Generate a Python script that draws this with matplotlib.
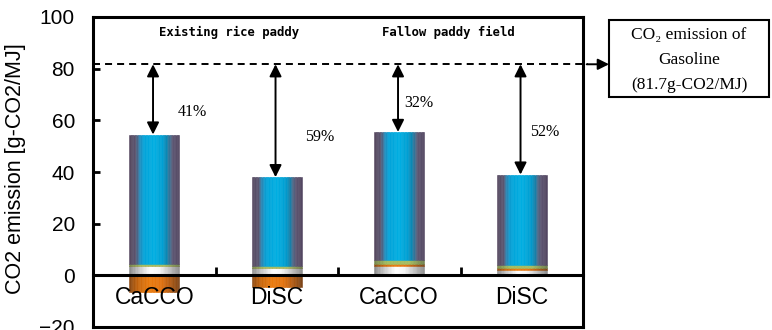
import matplotlib
matplotlib.use("Agg")
import matplotlib.pyplot as plt
import numpy as np
from matplotlib.colors import LinearSegmentedColormap
from matplotlib.patches import Rectangle

# ---- data -------------------------------------------------------------
categories = ["CaCCO", "DiSC", "CaCCO", "DiSC"]
base_grey = [3.6, 2.7, 3.5, 2.2]          # lowest stacked component
orange_band = [0.0, 0.0, 0.9, 0.6]        # thin orange component
green_band = [0.9, 0.9, 1.4, 1.3]         # thin green component
blue_main = [50.0, 34.4, 49.7, 34.9]      # main component
negative = [-6.5, -4.6, 0.0, 0.0]         # credit below zero
gasoline = 81.7
groups = ["Existing rice paddy", "Fallow paddy field"]
y_ticks = [-20, 0, 20, 40, 60, 80, 100]

# ---- layout helpers ---------------------------------------------------
pct_dx = [0.31, 0.354, 0.16, 0.19]
pct_y = [63.3, 53.6, 66.8, 55.6]
group_x = [0.61, 2.40]

plt.rcParams["font.family"] = ["Liberation Sans", "DejaVu Sans"]

fig = plt.figure(figsize=(7.72, 3.30), dpi=100)
ax = fig.add_axes([93 / 772, 3 / 330, 490 / 772, 310 / 330])
ax.set_axisbelow(False)

x = np.arange(len(categories))
bar_w = 0.41
n_slices = 36

cm_blue = LinearSegmentedColormap.from_list("cyl_blue", [
    (0.0, "#56485e"), (0.13, "#5a5570"), (0.2, "#2a86b4"), (0.28, "#02a2d8"),
    (0.5, "#00aee2"), (0.66, "#009fd2"), (0.75, "#0a84b0"), (0.82, "#4a6a8a"),
    (0.88, "#5c5470"), (1.0, "#524660")])
cm_grey = LinearSegmentedColormap.from_list("cyl_grey", [
    (0.0, "#8a8a8a"), (0.18, "#c4c4c4"), (0.42, "#ffffff"), (0.6, "#f6f6f6"),
    (0.82, "#bcbcbc"), (1.0, "#8c8c8c")])
cm_orange = LinearSegmentedColormap.from_list("cyl_orange", [
    (0.0, "#8a4812"), (0.18, "#c8660c"), (0.4, "#ea7a0c"), (0.62, "#e4730e"),
    (0.82, "#b05a12"), (1.0, "#7a4418")])
cm_green = LinearSegmentedColormap.from_list("cyl_green", [
    (0.0, "#76864c"), (0.25, "#a2bc5e"), (0.7, "#a4bc60"), (1.0, "#6e7e4c")])

base_grey = np.array(base_grey)
orange_band = np.array(orange_band)
green_band = np.array(green_band)
blue_main = np.array(blue_main)
negative = np.array(negative)

segments = [
    (base_grey, np.zeros(4), cm_grey),
    (orange_band, base_grey, cm_orange),
    (green_band, base_grey + orange_band, cm_green),
    (blue_main, base_grey + orange_band + green_band, cm_blue),
    (negative, np.zeros(4), cm_orange),
]

sw = bar_w / n_slices
for k in range(n_slices):
    t = (k + 0.5) / n_slices
    off = -bar_w / 2 + (k + 0.5) * sw
    for heights, bottoms, cmap in segments:
        c = cmap(t)
        ax.bar(x + off, heights, width=sw, bottom=bottoms, color=c,
               edgecolor=c, linewidth=0.4, zorder=2)

tops = base_grey + orange_band + green_band + blue_main
net = tops + negative

# gasoline reference line and link to the note box
ax.plot([-0.5, 3.54], [gasoline, gasoline], color="black", lw=1.4,
        ls=(0, (3.6, 2.6)), clip_on=False, zorder=4)
ax.annotate("", xy=(609 / 772, gasoline), xycoords=("figure fraction", "data"),
            xytext=(3.53, gasoline), textcoords="data",
            arrowprops=dict(arrowstyle="-|>,head_length=0.6,head_width=0.3",
                            color="black", lw=1.4, shrinkA=0, shrinkB=0,
                            mutation_scale=11))

# reduction arrows and percentages
for i in range(len(categories)):
    ax.annotate("", xy=(x[i] - 0.01, tops[i]), xytext=(x[i] - 0.01, gasoline),
                arrowprops=dict(arrowstyle="<|-|>,head_length=0.6,head_width=0.3",
                                color="black", lw=1.4, shrinkA=0, shrinkB=0,
                                mutation_scale=12), zorder=5)
    pct = round((gasoline - net[i]) / gasoline * 100)
    ax.text(x[i] + pct_dx[i], pct_y[i], f"{pct}%", ha="center", va="center",
            fontsize=11.5, family=["Liberation Serif", "DejaVu Serif"])

for gx, name in zip(group_x, groups):
    ax.text(gx, 94.2, name, ha="center", va="center", fontsize=8.8,
            fontweight="bold", family=["DejaVu Sans Mono"])

# axes styling
ax.set_xlim(-0.5, 3.5)
ax.set_ylim(-20, 100)
for s in ax.spines.values():
    s.set_linewidth(2.2)
ax.spines["bottom"].set_position(("data", 0))
ax.axhline(-20, color="black", lw=2.2, clip_on=False, zorder=6)

ax.set_yticks(y_ticks)
ax.tick_params(axis="y", direction="in", length=5, width=2, labelsize=15, pad=13)
ax.set_xticks([0.5, 1.5, 2.5])
ax.set_xticklabels([])
ax.set_xticks(x, labels=categories, minor=True)
ax.tick_params(axis="x", which="major", direction="in", length=6, width=2)
ax.tick_params(axis="x", which="minor", length=0, pad=8, labelsize=16.5)

fig.text(16 / 772, 0.49, "CO2 emission [g-CO2/MJ]", rotation=90,
         ha="center", va="center", fontsize=15.5)

# note box for gasoline
fig.add_artist(Rectangle((609 / 772, 1 - 97 / 330), 160 / 772, 77 / 330,
                         transform=fig.transFigure, fill=False, lw=1.5,
                         edgecolor="black"))
serif = ["Liberation Serif", "DejaVu Serif"]
fig.text(689 / 772, 1 - 35 / 330, "CO\u2082 emission of", ha="center",
         va="center", fontsize=12.5, family=serif)
fig.text(689 / 772, 1 - 60 / 330, "Gasoline", ha="center", va="center",
         fontsize=12.5, family=serif)
fig.text(689 / 772, 1 - 85 / 330, f"({gasoline}g-CO2/MJ)", ha="center",
         va="center", fontsize=12.5, family=serif)

fig.savefig("out.png", dpi=100)
